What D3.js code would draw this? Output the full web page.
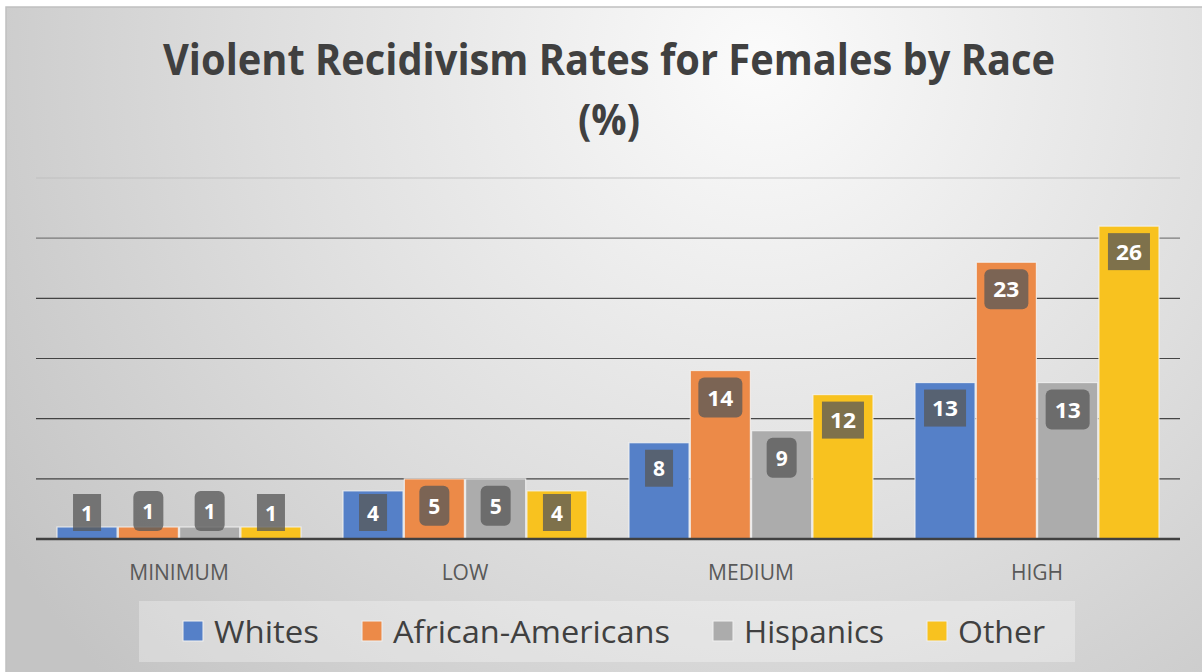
<!DOCTYPE html>
<html><head><meta charset="utf-8">
<script src="https://cdn.jsdelivr.net/npm/d3@7/dist/d3.min.js"></script>
<style>html,body{margin:0;padding:0;background:#fff;overflow:hidden}</style>
</head><body>
<svg id="chart" width="1202" height="672"></svg>
<script>
const categories = ["MINIMUM", "LOW", "MEDIUM", "HIGH"];
const seriesNames = ["Whites", "African-Americans", "Hispanics", "Other"];
const whites = [1, 4, 8, 13];
const africanAmericans = [1, 5, 14, 23];
const hispanics = [1, 5, 9, 13];
const other = [1, 4, 12, 26];
const yTicks = [0, 5, 10, 15, 20, 25, 30];
const titleLines = ["Violent Recidivism Rates for Females by Race", "(%)"];

const seriesValues = [whites, africanAmericans, hispanics, other];
const colors = ["#5580c8", "#ec8a48", "#acacac", "#f8c21f"];
const rounded = [false, true, true, false];

const svg = d3.select("#chart");
const defs = svg.append("defs");
const grad = defs.append("radialGradient").attr("id", "bg")
  .attr("gradientUnits", "userSpaceOnUse")
  .attr("cx", 760).attr("cy", 60).attr("r", 900);
grad.append("stop").attr("offset", "0").attr("stop-color", "#fbfbfb");
grad.append("stop").attr("offset", "0.55").attr("stop-color", "#dedede");
grad.append("stop").attr("offset", "1").attr("stop-color", "#c4c4c4");

svg.append("rect").attr("x", 0).attr("y", 0).attr("width", 1202).attr("height", 672).attr("fill", "#ffffff");
svg.append("rect").attr("x", 6).attr("y", 7).attr("width", 1210).attr("height", 680)
  .attr("fill", "url(#bg)").attr("stroke", "#c0c0c0").attr("stroke-width", 1.5);

const x0 = 36, x1 = 1180, yBase = 539, yTop = 178;
const x = d3.scaleBand().domain(categories).range([x0, x1]).paddingInner(0).paddingOuter(0);
const inner = d3.scaleBand().domain(seriesNames).range([21, x.bandwidth() - 21]).paddingInner(0.02);
const y = d3.scaleLinear().domain([0, 30]).range([yBase, yTop]);

// title (Calibri-like proportions: tall, narrow)
const titleWidths = [892, 62];
const title = svg.append("g");
titleLines.forEach((t, i) => {
  title.append("text").attr("x", 609).attr("y", 75 + i * 60)
    .attr("text-anchor", "middle")
    .attr("font-family", "'Open Sans', sans-serif").attr("font-weight", 700)
    .attr("font-size", 43).attr("fill", "#404040")
    .attr("textLength", titleWidths[i]).attr("lengthAdjust", "spacingAndGlyphs")
    .text(t);
});

// gridlines
const gridColor = v => v === 30 ? "#bdbdbd" : (v === 25 ? "#6a6a6a" : "#2a2a2a");
svg.append("g").selectAll("line").data(yTicks.filter(v => v > 0)).join("line")
  .attr("x1", x0).attr("x2", x1).attr("y1", d => y(d)).attr("y2", d => y(d))
  .attr("stroke", gridColor).attr("stroke-width", 1.2).attr("stroke-opacity", 0.85);

// bars
const data = [];
categories.forEach((c, ci) => seriesNames.forEach((s, si) => data.push({c, s, si, v: seriesValues[si][ci]})));
svg.append("g").selectAll("rect").data(data).join("rect")
  .attr("x", d => x(d.c) + inner(d.s)).attr("width", inner.bandwidth())
  .attr("y", d => y(d.v)).attr("height", d => yBase - y(d.v))
  .attr("fill", d => colors[d.si]).attr("stroke", "#f4f4f4").attr("stroke-opacity", 0.8).attr("stroke-width", 1.2);

// axis baseline
svg.append("line").attr("x1", x0).attr("x2", x1).attr("y1", yBase).attr("y2", yBase)
  .attr("stroke", "#404040").attr("stroke-width", 2.5);

// category labels
const xAxis = svg.append("g").attr("transform", `translate(0,${yBase})`)
  .call(d3.axisBottom(x).tickSize(0).tickPadding(26));
xAxis.select(".domain").remove();
xAxis.selectAll("text").attr("font-family", "'Open Sans', sans-serif").attr("font-size", 21)
  .attr("fill", "#595959");

// data labels
const lg = svg.append("g");
data.forEach(d => {
  const cx = x(d.c) + inner(d.s) + inner.bandwidth() / 2;
  const txt = String(d.v);
  const w = (txt.length > 1 ? 42 : 28) + (rounded[d.si] ? 2 : 0);
  const h = rounded[d.si] ? 40 : 37;
  let top = y(d.v) + 7;
  if (top + h > yBase - 8) top = yBase - 8 - h;
  lg.append("rect").attr("x", cx - w / 2).attr("y", top).attr("width", w).attr("height", h)
    .attr("rx", rounded[d.si] ? 6 : 0)
    .attr("fill", "rgba(88,88,88,0.77)");
  const t = lg.append("text").attr("x", cx).attr("y", top + h / 2 + 8)
    .attr("text-anchor", "middle").attr("font-family", "'Open Sans', sans-serif")
    .attr("font-weight", 700).attr("font-size", 22).attr("fill", "#ffffff").text(txt);
  t.attr("textLength", txt.length > 1 ? 26 : 12).attr("lengthAdjust", "spacingAndGlyphs");
});

// legend
const leg = svg.append("g");
leg.append("rect").attr("x", 139).attr("y", 601).attr("width", 936).attr("height", 61)
  .attr("fill", "#ffffff").attr("fill-opacity", 0.3);
const legX = [183, 362, 713, 927];
const legW = [105, 277, 140, 87];
seriesNames.forEach((s, i) => {
  leg.append("rect").attr("x", legX[i]).attr("y", 621).attr("width", 20).attr("height", 20)
    .attr("fill", colors[i]).attr("stroke", "#f0f0f0").attr("stroke-width", 1);
  leg.append("text").attr("x", legX[i] + 31).attr("y", 643)
    .attr("font-family", "'Open Sans', sans-serif").attr("font-size", 31)
    .attr("fill", "#404040").attr("textLength", legW[i]).attr("lengthAdjust", "spacingAndGlyphs")
    .text(s);
});
</script>
</body></html>
